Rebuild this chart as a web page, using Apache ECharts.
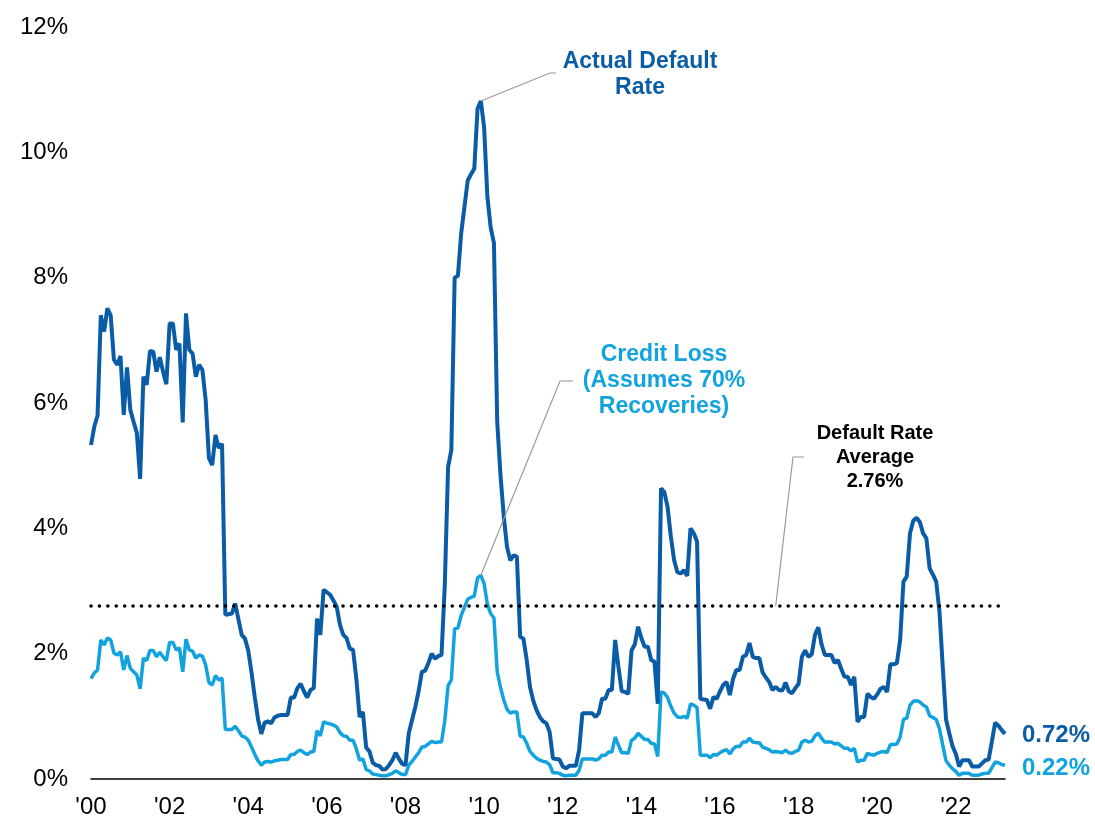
<!DOCTYPE html>
<html><head><meta charset="utf-8">
<script src="https://cdn.jsdelivr.net/npm/echarts@6/dist/echarts.min.js"></script>
<style>html,body{margin:0;padding:0;background:#fff}#c{width:1095px;height:822px}</style>
</head><body><div id="c"></div>
<script>
const startYear = 2000;
// Monthly high-yield default rate (%), Jan 2000 – Apr 2023
const defaultRate = [
  5.33,5.62,5.80,7.40,7.14,7.51,7.40,6.69,6.61,6.75,5.81,6.57,
  5.89,5.70,5.52,4.79,6.42,6.29,6.83,6.82,6.50,6.73,6.50,6.30,
  7.27,7.27,6.85,6.95,5.69,7.43,6.85,6.79,6.42,6.61,6.53,6.05,
  5.12,5.01,5.49,5.28,5.35,2.62,2.63,2.64,2.80,2.55,2.30,2.24,
  2.05,1.70,1.30,0.95,0.72,0.90,0.92,0.89,0.98,1.01,1.02,1.02,
  1.02,1.30,1.30,1.45,1.52,1.40,1.30,1.42,1.45,2.56,2.30,3.02,
  2.98,2.94,2.85,2.75,2.46,2.30,2.25,2.08,2.06,1.60,0.99,1.07,
  0.50,0.44,0.26,0.22,0.21,0.15,0.16,0.22,0.30,0.42,0.32,0.24,
  0.22,0.73,0.94,1.15,1.40,1.71,1.73,1.85,2.00,1.92,1.96,1.98,
  3.10,4.98,5.25,8.00,8.03,8.71,9.13,9.55,9.65,9.74,10.70,10.82,
  10.40,9.29,8.80,8.55,5.70,4.85,4.19,3.70,3.49,3.57,3.55,2.27,
  2.24,1.90,1.47,1.25,1.10,0.99,0.92,0.89,0.75,0.33,0.32,0.31,
  0.20,0.17,0.21,0.21,0.21,0.46,1.05,1.05,1.05,1.05,0.99,1.05,
  1.28,1.28,1.42,1.42,2.22,1.79,1.40,1.39,1.36,2.05,2.15,2.43,
  2.25,2.11,2.11,1.90,1.87,1.20,4.64,4.58,4.34,3.87,3.49,3.30,
  3.28,3.33,3.24,4.00,3.92,3.79,1.28,1.27,1.26,1.12,1.31,1.28,
  1.40,1.50,1.55,1.34,1.60,1.74,1.74,1.95,1.98,2.17,1.95,1.93,
  1.93,1.70,1.62,1.55,1.42,1.47,1.42,1.41,1.54,1.40,1.37,1.45,
  1.52,1.95,2.05,1.95,1.99,2.30,2.42,2.15,1.98,1.98,1.98,1.85,
  1.90,1.76,1.63,1.63,1.50,1.63,0.91,0.99,0.99,1.36,1.31,1.28,
  1.35,1.44,1.47,1.39,1.83,1.83,1.85,2.22,3.15,3.23,3.92,4.12,
  4.17,4.10,3.92,3.84,3.36,3.26,3.15,2.67,1.79,0.95,0.73,0.52,
  0.40,0.20,0.30,0.30,0.30,0.20,0.20,0.20,0.25,0.30,0.31,0.60,
  0.90,0.85,0.78,0.72
];
// Monthly credit loss (%), assumes 70% recoveries
const creditLoss = [
  1.60,1.69,1.74,2.22,2.14,2.25,2.22,2.01,1.98,2.03,1.74,1.97,
  1.77,1.71,1.66,1.44,1.93,1.89,2.05,2.05,1.95,2.02,1.95,1.89,
  2.18,2.18,2.06,2.09,1.71,2.23,2.06,2.04,1.93,1.98,1.96,1.82,
  1.54,1.50,1.65,1.58,1.61,0.79,0.79,0.79,0.84,0.77,0.69,0.67,
  0.62,0.51,0.39,0.29,0.22,0.27,0.28,0.27,0.29,0.30,0.31,0.31,
  0.31,0.39,0.39,0.44,0.46,0.42,0.39,0.43,0.44,0.77,0.69,0.91,
  0.89,0.88,0.86,0.83,0.74,0.69,0.68,0.62,0.62,0.48,0.30,0.32,
  0.15,0.13,0.08,0.07,0.06,0.05,0.05,0.07,0.09,0.13,0.10,0.07,
  0.07,0.22,0.28,0.35,0.42,0.51,0.52,0.56,0.60,0.58,0.59,0.59,
  0.93,1.49,1.58,2.40,2.41,2.61,2.74,2.87,2.90,2.92,3.21,3.25,
  3.12,2.79,2.64,2.57,1.71,1.46,1.26,1.11,1.05,1.07,1.07,0.68,
  0.67,0.57,0.44,0.38,0.33,0.30,0.28,0.27,0.23,0.10,0.10,0.09,
  0.06,0.05,0.06,0.06,0.06,0.14,0.32,0.32,0.32,0.32,0.30,0.32,
  0.38,0.38,0.43,0.43,0.67,0.54,0.42,0.42,0.41,0.62,0.65,0.73,
  0.68,0.63,0.63,0.57,0.56,0.36,1.39,1.37,1.30,1.16,1.05,0.99,
  0.98,1.00,0.97,1.20,1.18,1.14,0.38,0.38,0.38,0.34,0.39,0.38,
  0.42,0.45,0.47,0.40,0.48,0.52,0.52,0.59,0.59,0.65,0.59,0.58,
  0.58,0.51,0.49,0.47,0.43,0.44,0.43,0.42,0.46,0.42,0.41,0.44,
  0.46,0.59,0.62,0.59,0.60,0.69,0.73,0.65,0.59,0.59,0.59,0.56,
  0.57,0.53,0.49,0.49,0.45,0.49,0.27,0.30,0.30,0.41,0.39,0.38,
  0.41,0.43,0.44,0.42,0.55,0.55,0.56,0.67,0.95,0.97,1.18,1.24,
  1.25,1.23,1.18,1.15,1.01,0.98,0.95,0.80,0.54,0.29,0.22,0.16,
  0.12,0.06,0.09,0.09,0.09,0.06,0.06,0.06,0.08,0.09,0.09,0.18,
  0.27,0.26,0.23,0.22
];
const tickLabels = ["'00","'02","'04","'06","'08","'10","'12","'14","'16","'18","'20","'22"];
const avgDefault = 2.76;
const avgLeaderMonth = '2017-06';

const months = [];
for (let i = 0; i < defaultRate.length; i++) {
  const y = startYear + Math.floor(i / 12), m = (i % 12) + 1;
  months.push(y + '-' + String(m).padStart(2, '0'));
}

const FONT = '"Liberation Sans", Arial, sans-serif';
const DARK = '#0B5CA6';
const LIGHT = '#12A3DF';

const chart = echarts.init(document.getElementById('c'));
chart.setOption({
  animation: false,
  backgroundColor: '#fff',
  grid: { left: 91, right: 90, top: 27, bottom: 43, containLabel: false },
  xAxis: {
    type: 'category', data: months, boundaryGap: false,
    axisLine: { lineStyle: { color: '#000', width: 1.5 } },
    axisTick: { show: false },
    axisLabel: {
      interval: (i) => i % 24 === 0,
      formatter: (v, i) => tickLabels[Math.round(i / 24)],
      fontFamily: FONT, fontSize: 24, color: '#000', margin: 16
    },
    splitLine: { show: false }
  },
  yAxis: {
    type: 'value', min: 0, max: 12, interval: 2,
    axisLine: { show: false }, axisTick: { show: false },
    splitLine: { show: false },
    axisLabel: { formatter: '{value}%', fontFamily: FONT, fontSize: 24, color: '#000', margin: 23 }
  },
  series: [
    {
      name: 'Credit Loss', type: 'line', data: creditLoss, showSymbol: false,
      lineStyle: { color: LIGHT, width: 3.5 }, itemStyle: { color: LIGHT },
      endLabel: { show: true, formatter: (p) => p.value.toFixed(2) + '%', color: LIGHT,
        fontFamily: FONT, fontWeight: 'bold', fontSize: 24, offset: [9, 3] }
    },
    {
      name: 'Actual Default Rate', type: 'line', data: defaultRate, showSymbol: false,
      lineStyle: { color: DARK, width: 4 }, itemStyle: { color: DARK },
      endLabel: { show: true, formatter: (p) => p.value.toFixed(2) + '%', color: DARK,
        fontFamily: FONT, fontWeight: 'bold', fontSize: 24, offset: [9, 1] },
      markLine: {
        silent: true, symbol: ['none', 'none'], label: { show: false },
        lineStyle: { color: '#000', width: 3.5, type: [0.1, 8.3], cap: 'round' },
        data: [{ yAxis: avgDefault }]
      }
    }
  ]
});

const peakIdx = defaultRate.indexOf(Math.max(...defaultRate));
const pDef = chart.convertToPixel({ xAxisIndex: 0, yAxisIndex: 0 }, [peakIdx, defaultRate[peakIdx]]);
const pCl = chart.convertToPixel({ xAxisIndex: 0, yAxisIndex: 0 }, [peakIdx, creditLoss[peakIdx]]);
const pAvg = chart.convertToPixel({ xAxisIndex: 0, yAxisIndex: 0 }, [months.indexOf(avgLeaderMonth), avgDefault]);
const leader = (pts) => ({ type: 'polyline', z: 100, silent: true,
  shape: { points: pts }, style: { stroke: '#9a9a9a', lineWidth: 1.2, fill: null } });
const label = (text, x, y, color, size, lh) => ({ type: 'text', z: 100, silent: true, x, y,
  style: { text, fill: color, font: 'bold ' + size + 'px ' + FONT, textAlign: 'center', lineHeight: lh } });

chart.setOption({
  graphic: [
    leader([[pDef[0], pDef[1]], [550, 73], [556, 73]]),
    leader([[pCl[0], pCl[1]], [560, 381], [573, 381]]),
    leader([[pAvg[0], pAvg[1]], [793, 457], [804, 457]]),
    label('Actual Default\nRate', 640, 49, DARK, 23, 26),
    label('Credit Loss\n(Assumes 70%\nRecoveries)', 664, 342, LIGHT, 23, 26),
    label('Default Rate\nAverage\n2.76%', 875, 421, '#000', 20, 24)
  ]
});
</script>
</body></html>
